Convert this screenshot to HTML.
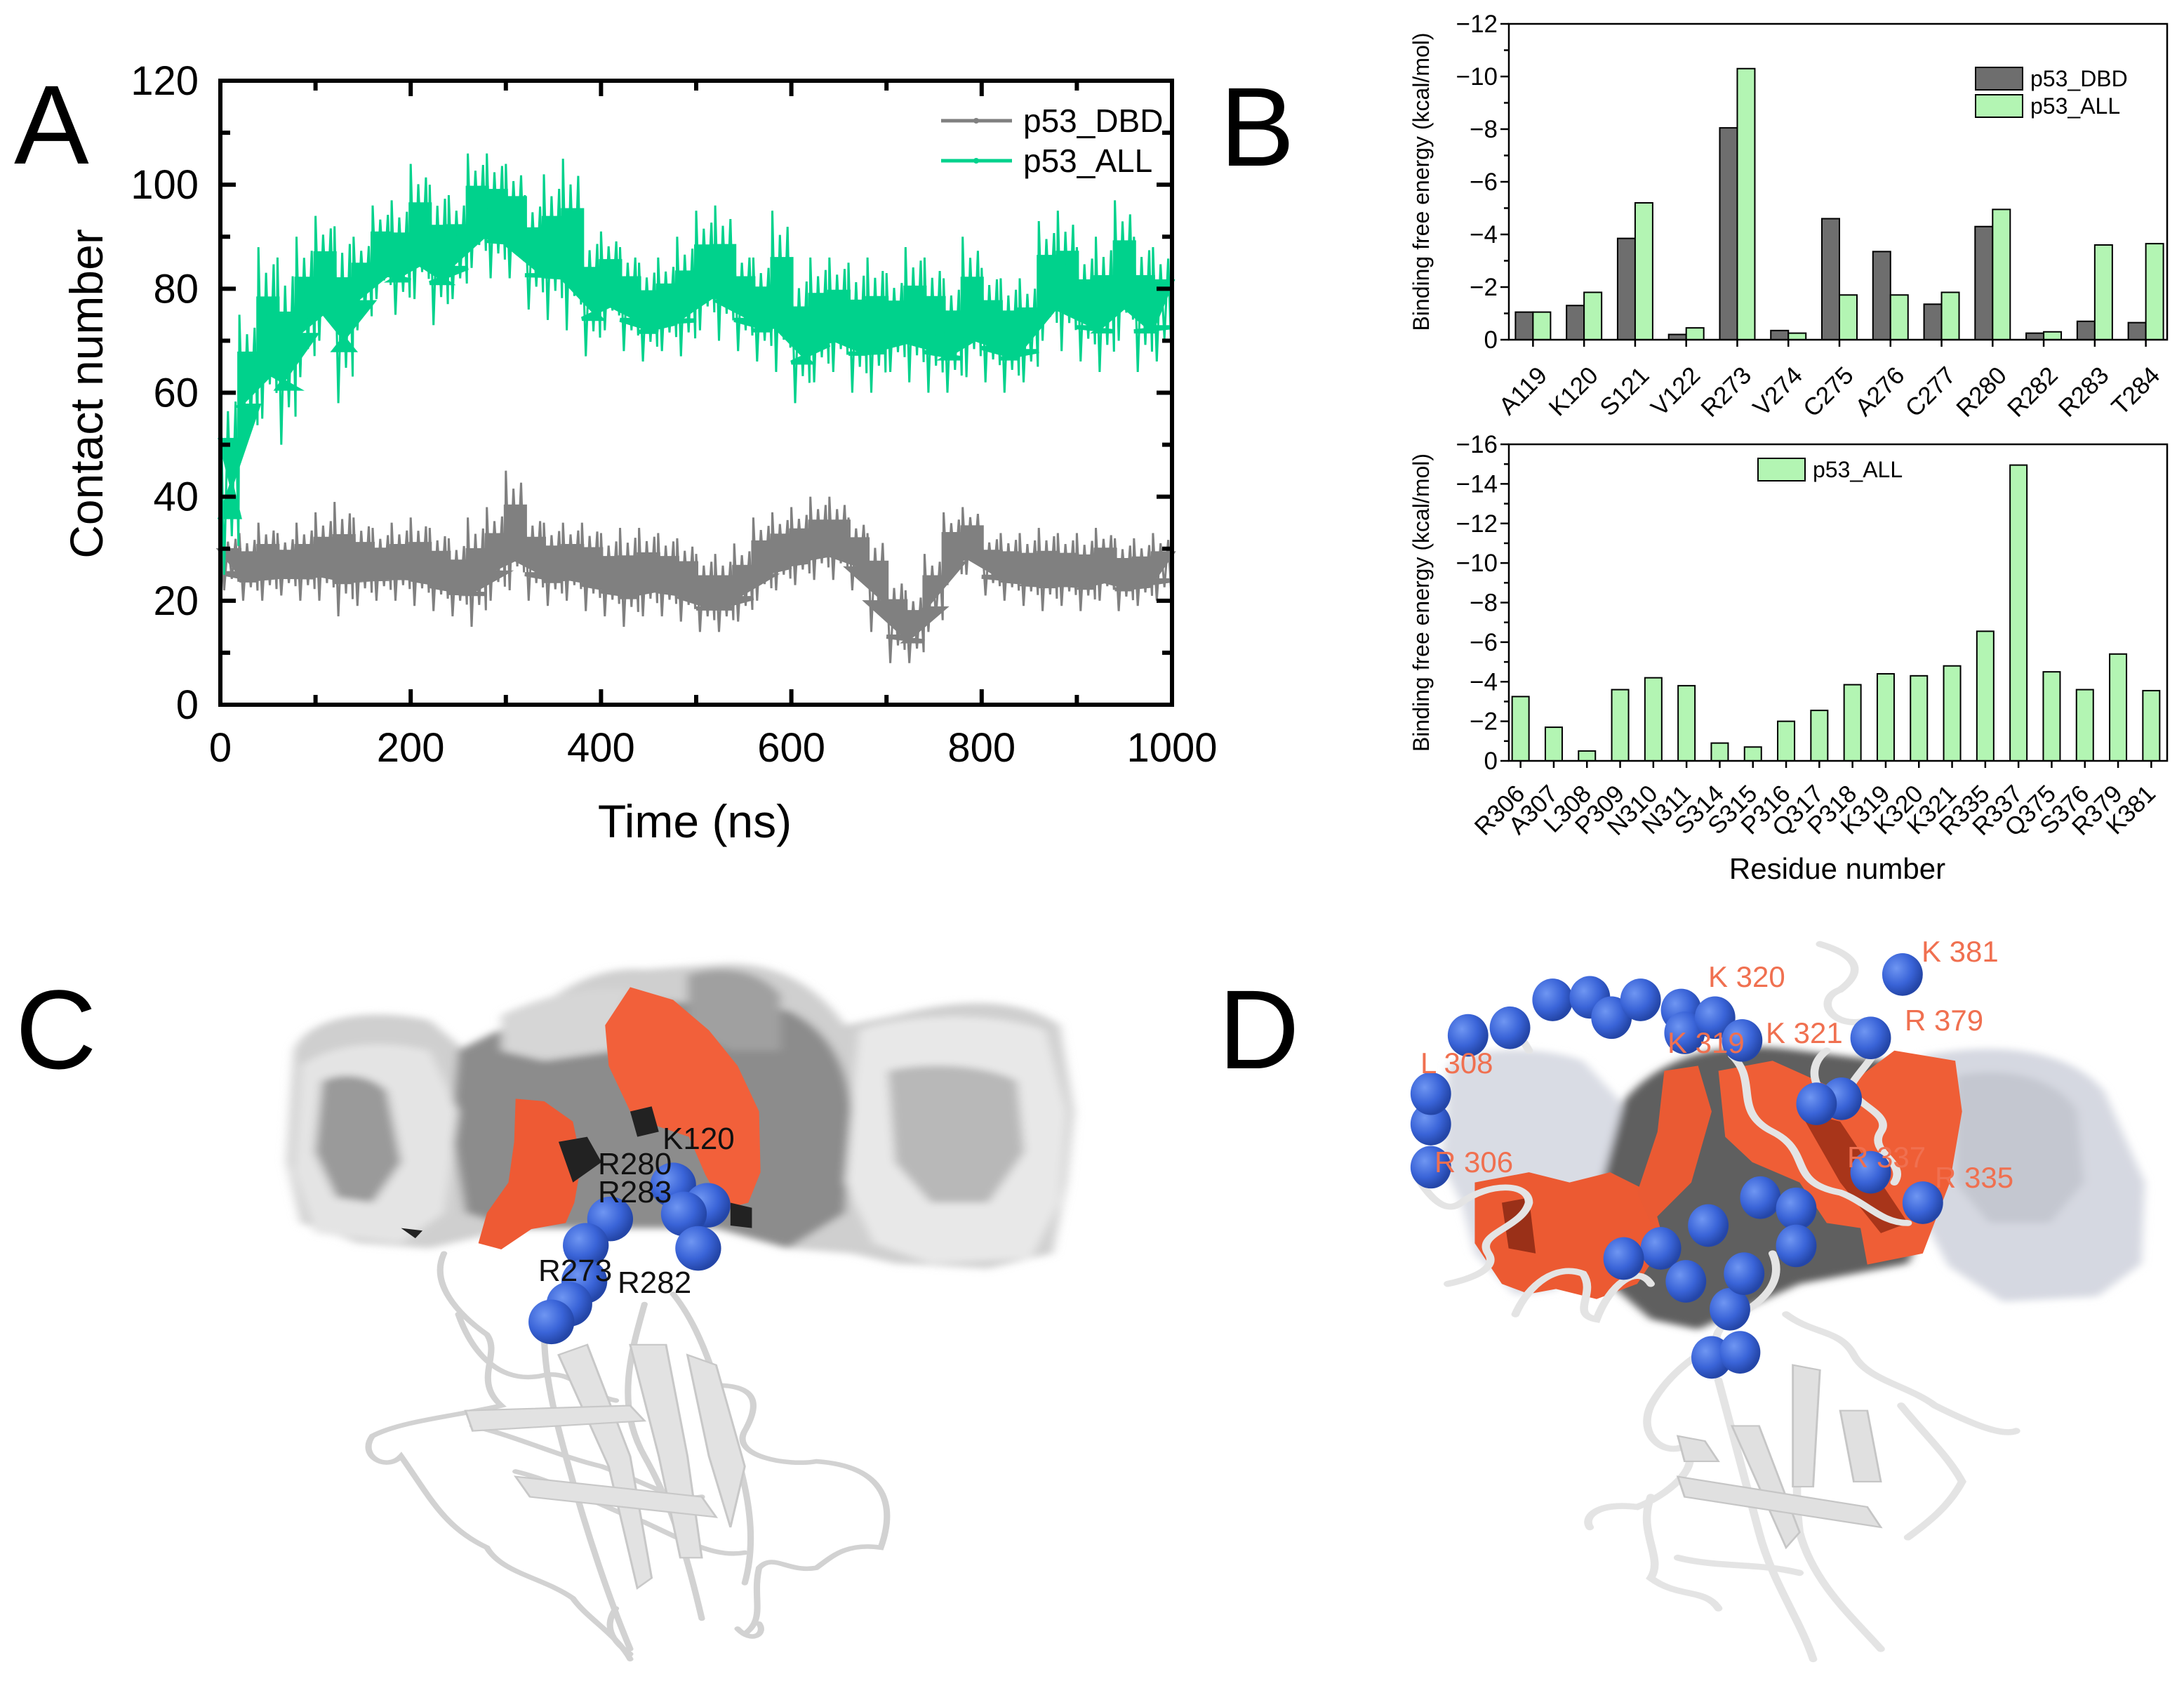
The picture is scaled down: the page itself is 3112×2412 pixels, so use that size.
<!DOCTYPE html>
<html><head><meta charset="utf-8"><style>
html,body{margin:0;padding:0;background:#fff;}
svg{display:block;font-family:"Liberation Sans",Arial,sans-serif;}
</style></head><body>
<svg id="fig" width="3112" height="2412" viewBox="0 0 3112 2412" xmlns="http://www.w3.org/2000/svg">
<defs>
<filter id="blur" x="-10%" y="-10%" width="120%" height="120%"><feGaussianBlur stdDeviation="7"/></filter>
<radialGradient id="ball" cx="35%" cy="35%" r="65%"><stop offset="0" stop-color="#6f96f2"/><stop offset="0.6" stop-color="#3a64d8"/><stop offset="1" stop-color="#2446a8"/></radialGradient>
</defs>
<g id="panelA"></g>
<g id="panelB1"></g>
<g id="panelB2"></g>

<text x="20" y="233" font-size="160">A</text>
<text x="1738" y="236" font-size="160">B</text>
<text x="22" y="1522" font-size="160">C</text>
<text x="1736" y="1522" font-size="160">D</text>

<g>
<g transform="translate(0,1280) scale(1.0204,0.7225)">
 <g filter="url(#blur)">
  <path d="M410,300 C430,230 520,215 600,240 L650,300 700,280 C760,200 820,130 900,140 L1000,130 C1080,120 1140,170 1180,250 L1250,230 C1330,200 1420,190 1480,250 L1500,420 1490,560 1470,700 1380,730 1250,720 1190,700 1100,690 1020,650 900,650 720,650 600,690 500,680 420,640 400,520 Z" fill="#cfcfcf"/>
  <path d="M640,300 C720,240 800,190 900,200 L1100,220 C1160,260 1190,340 1190,450 L1180,620 1100,690 1000,650 900,650 720,650 650,620 630,450 Z" fill="#8c8c8c"/>
  <path d="M420,330 C470,280 540,280 600,300 L640,420 620,620 560,680 440,660 410,540 Z" fill="#e4e4e4"/>
  <path d="M450,360 C480,340 520,350 540,380 L560,520 520,600 470,590 440,500 Z" fill="#9a9a9a"/>
  <path d="M1200,260 C1260,230 1380,220 1460,260 L1490,420 1480,600 1440,710 1300,720 1220,680 1180,560 1190,400 Z" fill="#e8e8e8"/>
  <path d="M1240,340 C1300,320 1380,330 1420,360 L1430,500 1380,600 1300,600 1250,520 Z" fill="#b8b8b8"/>
  <path d="M700,230 C760,190 830,170 880,180 L860,300 760,320 700,300 Z" fill="#d6d6d6"/>
  <path d="M960,150 C1010,130 1060,140 1090,190 L1090,300 1020,300 960,260 Z" fill="#a0a0a0"/>
 </g>
 <path d="M880,175 L940,200 990,260 1030,330 1060,420 1062,540 1045,600 1012,612 985,545 962,470 920,450 880,420 850,330 845,250 Z" fill="#f2603a"/>
 <path d="M720,395 L760,400 800,440 812,520 802,600 790,640 742,652 700,692 668,680 680,620 710,560 718,480 Z" fill="#ee5a34"/>
 <path d="M780,480 L820,470 840,520 800,560 Z M880,420 L910,410 920,460 890,470 Z M1020,600 L1050,610 1050,650 1020,645 Z M560,650 L590,655 580,670 Z" fill="#222"/>
 <g fill="none" stroke="#d2d2d2" stroke-width="9" stroke-linecap="round">
  <path d="M620,700 C600,760 640,820 680,860 C700,900 660,950 700,1000 C640,1020 560,1030 520,1060 C500,1100 540,1130 560,1100 C600,1180 620,1240 680,1280 C700,1330 760,1340 800,1380 C820,1420 860,1450 880,1500"/>
  <path d="M760,860 C760,950 780,1050 800,1150 C820,1250 850,1380 880,1480"/>
  <path d="M900,800 C880,900 860,1000 900,1100 C940,1200 960,1300 980,1420"/>
  <path d="M940,780 C980,850 1000,950 1020,1050 C1040,1150 1060,1250 1040,1350"/>
  <path d="M1000,960 C1060,960 1060,1000 1040,1050 C1020,1100 1100,1120 1140,1110 C1240,1120 1250,1200 1230,1280 C1180,1270 1160,1300 1140,1320 C1100,1330 1080,1290 1060,1320 C1050,1380 1070,1420 1040,1450"/>
  <path d="M640,820 C660,900 700,960 760,940 C800,930 820,980 860,990"/>
  <path d="M720,1130 C780,1150 840,1200 900,1230 C960,1270 1000,1300 1040,1290"/>
  <path d="M660,1040 C720,1060 780,1100 840,1120 C900,1150 940,1190 980,1180"/>
  <path d="M860,1400 C840,1440 860,1470 880,1490 M1030,1440 C1050,1470 1070,1450 1060,1430"/>
 </g>
 <g fill="#e2e2e2" stroke="#c8c8c8" stroke-width="3">
  <path d="M780,900 L820,880 880,1100 910,1340 890,1360 850,1120 Z"/>
  <path d="M880,880 L930,880 960,1100 980,1300 950,1300 920,1100 Z"/>
  <path d="M720,1140 L980,1180 1000,1220 740,1180 Z"/>
  <path d="M650,1010 L880,1000 900,1030 660,1050 Z"/>
  <path d="M960,900 L1000,920 1040,1120 1020,1240 990,1100 Z"/>
 </g>
 <g fill="url(#ball)">
  <ellipse cx="852" cy="632" rx="32" ry="44"/><ellipse cx="818" cy="684" rx="32" ry="44"/>
  <ellipse cx="816" cy="755" rx="32" ry="44"/><ellipse cx="795" cy="800" rx="32" ry="44"/>
  <ellipse cx="770" cy="835" rx="32" ry="44"/><ellipse cx="940" cy="565" rx="32" ry="44"/>
  <ellipse cx="988" cy="605" rx="32" ry="44"/><ellipse cx="955" cy="622" rx="32" ry="44"/>
  <ellipse cx="975" cy="690" rx="32" ry="44"/>
 </g>
</g>
<g font-size="44" fill="#111">
 <text x="944" y="1637">K120</text><text x="852" y="1673">R280</text><text x="852" y="1713">R283</text>
 <text x="767" y="1825">R273</text><text x="880" y="1842">R282</text>
</g>
</g>

<g>
<g transform="translate(1600,1280) scale(0.9643,0.7225)">
 <g filter="url(#blur)">
  <path d="M480,330 C520,290 620,290 680,320 L735,400 742,520 705,565 682,700 640,772 580,782 520,700 500,600 470,520 478,420 Z" fill="#d9dce4"/>
  <path d="M740,400 C800,300 900,280 1000,300 L1180,330 1200,600 1160,720 1000,760 850,850 780,830 720,760 700,600 Z" fill="#5e5e5e"/>
  <path d="M1180,310 C1300,280 1400,300 1450,380 L1510,560 1505,720 1440,785 1300,795 1220,725 1170,600 Z" fill="#d5d8e1"/>
  <path d="M1230,350 C1300,330 1380,350 1410,420 L1420,560 1370,640 1280,640 1230,560 Z" fill="#c4c7d0"/>
 </g>
 <path d="M520,560 L600,540 660,560 720,540 780,580 800,680 760,760 700,790 640,770 600,780 560,760 520,680 Z" fill="#ec5a32"/>
 <path d="M560,600 L600,590 610,700 570,690 Z" fill="#9a3018"/>
 <path d="M880,340 L960,320 1060,380 1140,300 1230,320 1240,420 1222,560 1182,700 1100,722 1090,650 1040,640 1000,560 930,520 890,470 Z" fill="#ef5e36"/>
 <path d="M800,340 L850,330 870,420 840,560 780,640 760,580 790,460 Z" fill="#ea5a33"/>
 <path d="M1000,420 L1060,440 1120,560 1160,640 1120,660 1060,560 Z" fill="#a8351a"/>
 <g fill="none" stroke="#e4e4e4" stroke-width="12" stroke-linecap="round">
  <path d="M600,300 C580,250 560,250 560,270 M440,560 C460,600 480,620 500,600 C540,560 600,560 600,600 C590,650 520,660 540,700 C560,740 480,760 480,760"/>
  <path d="M580,820 C600,760 640,720 680,740 C700,780 660,820 700,830 C720,760 760,720 780,760"/>
  <path d="M900,310 C940,360 900,420 960,460 C1020,500 980,560 1060,580 C1100,600 1120,640 1160,640"/>
  <path d="M1030,90 C1080,110 1100,140 1060,180 C1020,200 1050,260 1100,240 C1140,280 1100,320 1080,360 C1060,400 1140,420 1120,460 C1100,500 1160,520 1140,560"/>
  <path d="M1040,300 C1010,330 1020,380 1050,400"/>
  <path d="M960,700 C980,760 940,800 900,830 C860,860 880,900 900,900"/>
  <path d="M880,880 C840,900 800,950 780,1000 C760,1060 800,1100 830,1080 C860,1120 800,1180 760,1200 C700,1190 680,1220 690,1240"/>
  <path d="M980,820 C1020,860 1060,850 1080,900 C1100,950 1160,960 1200,1000 C1260,1040 1300,1060 1320,1050"/>
  <path d="M880,950 C900,1050 920,1150 940,1250 C960,1350 1000,1420 1020,1500"/>
  <path d="M1020,950 C1000,1050 990,1150 1000,1250 C1020,1350 1080,1420 1120,1480"/>
  <path d="M780,1180 C760,1250 800,1300 780,1340 C820,1380 860,1360 880,1400"/>
  <path d="M1150,1000 C1180,1050 1220,1100 1240,1150 C1220,1200 1190,1230 1160,1260"/>
  <path d="M820,1300 C880,1320 940,1310 1000,1330"/>
 </g>
 <g fill="#e0e0e0" stroke="#c6c6c6" stroke-width="3">
  <path d="M900,1040 L940,1040 1000,1250 980,1280 Z"/>
  <path d="M990,920 L1030,930 1020,1160 990,1160 Z"/>
  <path d="M820,1140 L1100,1200 1120,1240 830,1180 Z"/>
  <path d="M1060,1010 L1100,1010 1120,1150 1080,1150 Z"/>
  <path d="M820,1060 L860,1070 880,1110 830,1110 Z"/>
 </g>
 <g fill="url(#ball)">
  <ellipse cx="455" cy="530" rx="30" ry="42"/><ellipse cx="455" cy="445" rx="30" ry="42"/><ellipse cx="455" cy="385" rx="30" ry="42"/>
  <ellipse cx="510" cy="270" rx="30" ry="42"/><ellipse cx="572" cy="255" rx="30" ry="42"/><ellipse cx="635" cy="200" rx="30" ry="42"/>
  <ellipse cx="690" cy="195" rx="30" ry="42"/><ellipse cx="722" cy="235" rx="30" ry="42"/><ellipse cx="765" cy="200" rx="30" ry="42"/>
  <ellipse cx="825" cy="220" rx="30" ry="42"/><ellipse cx="830" cy="265" rx="30" ry="42"/><ellipse cx="875" cy="235" rx="30" ry="42"/>
  <ellipse cx="915" cy="280" rx="30" ry="42"/><ellipse cx="1152" cy="150" rx="30" ry="42"/><ellipse cx="1105" cy="275" rx="30" ry="42"/>
  <ellipse cx="1062" cy="395" rx="30" ry="42"/><ellipse cx="1025" cy="405" rx="30" ry="42"/><ellipse cx="1105" cy="540" rx="30" ry="42"/>
  <ellipse cx="1182" cy="600" rx="30" ry="42"/><ellipse cx="942" cy="590" rx="30" ry="42"/><ellipse cx="995" cy="612" rx="30" ry="42"/>
  <ellipse cx="995" cy="685" rx="30" ry="42"/><ellipse cx="865" cy="645" rx="30" ry="42"/><ellipse cx="795" cy="690" rx="30" ry="42"/>
  <ellipse cx="740" cy="710" rx="30" ry="42"/><ellipse cx="832" cy="755" rx="30" ry="42"/><ellipse cx="897" cy="810" rx="30" ry="42"/>
  <ellipse cx="918" cy="740" rx="30" ry="42"/><ellipse cx="870" cy="905" rx="30" ry="42"/><ellipse cx="912" cy="895" rx="30" ry="42"/>
 </g>
</g>
<g font-size="42" fill="#f07050">
 <text x="2738" y="1370">K 381</text><text x="2434" y="1406">K 320</text><text x="2714" y="1468">R 379</text>
 <text x="2516" y="1486">K 321</text><text x="2376" y="1500">K 319</text><text x="2024" y="1529">L 308</text>
 <text x="2044" y="1670">R 306</text><text x="2632" y="1663">R 337</text><text x="2757" y="1692">R 335</text>
</g>
</g>
</svg>

<script>
// ===== Panel A data (20 ns bins: upper / lower envelope of contact number) =====
const timeBins = [0,20,40,60,80,100,120,140,160,180,200,220,240,260,280,300,320,340,360,380,400,420,440,460,480,500,520,540,560,580,600,620,640,660,680,700,720,740,760,780,800,820,840,860,880,900,920,940,960,980];
const allHi = [62,75,88,86,90,94,92,90,96,97,104,100,98,106,106,104,98,102,105,91,91,88,85,86,90,95,96,88,86,95,84,86,86,85,86,83,88,86,82,90,84,82,82,93,95,88,90,97,90,88];
const allLo = [25,50,55,50,63,70,58,72,78,75,78,73,78,84,82,82,76,74,72,67,72,68,66,68,67,72,70,68,66,64,58,62,64,60,60,64,62,60,60,63,62,60,62,70,68,66,64,70,64,66];
const dbdHi = [33,33,35,33,35,37,39,36,34,35,36,34,32,36,38,45,37,35,35,35,33,34,34,33,32,29,29,31,36,37,38,40,40,36,33,25,22,29,37,38,33,33,33,34,33,33,34,32,32,33];
const dbdLo = [22,20,20,21,20,20,17,19,20,20,19,18,17,15,20,22,20,19,20,18,17,15,17,17,16,14,14,16,20,22,23,24,24,22,14,8,8,14,23,25,21,20,19,18,19,18,20,18,19,20];
const aXTicks = [0,200,400,600,800,1000];
const aYTicks = [0,20,40,60,80,100,120];

// ===== Panel B top data =====
const topResidues = ["A119","K120","S121","V122","R273","V274","C275","A276","C277","R280","R282","R283","T284"];
const topDBD = [-1.05,-1.3,-3.85,-0.2,-8.05,-0.35,-4.6,-3.35,-1.35,-4.3,-0.25,-0.7,-0.65];
const topALL = [-1.05,-1.8,-5.2,-0.45,-10.3,-0.25,-1.7,-1.7,-1.8,-4.95,-0.3,-3.6,-3.65];
const topYTicks = [0,-2,-4,-6,-8,-10,-12];

// ===== Panel B bottom data =====
const botResidues = ["R306","A307","L308","P309","N310","N311","S314","S315","P316","Q317","P318","K319","K320","K321","R335","R337","Q375","S376","R379","K381"];
const botALL = [-3.25,-1.7,-0.5,-3.6,-4.2,-3.8,-0.9,-0.7,-2.0,-2.55,-3.85,-4.4,-4.3,-4.8,-6.55,-14.95,-4.5,-3.6,-5.4,-3.55];
const botYTicks = [0,-2,-4,-6,-8,-10,-12,-14,-16];

const NS = "http://www.w3.org/2000/svg";
function mk(parent, tag, attrs, text){
  const e = document.createElementNS(NS, tag);
  for (const k in attrs) e.setAttribute(k, attrs[k]);
  if (text !== undefined) e.textContent = text;
  parent.appendChild(e);
  return e;
}
function fmt(v){ return v < 0 ? "\u2212" + Math.abs(v) : String(v); }

(function(){
  const g = document.getElementById("panelA");
  const L=314,R=1670,T=115,B=1004;
  const xA = t => L + t/1000*(R-L);
  const yA = v => B - v/120*(B-T);
  function series(hi, lo, color, name){
    const sg = mk(g, "g", {});
    
    
    let top = [], bot = [];
    for (let i=0;i<timeBins.length;i++){
      const t0 = timeBins[i], t1 = t0+20;
      const c1 = lo[i] + (hi[i]-lo[i])*0.3, c2 = hi[i] - (hi[i]-lo[i])*0.3;
      top.push(xA(t0).toFixed(1)+","+yA(c2).toFixed(1), xA(t1).toFixed(1)+","+yA(c2).toFixed(1));
      bot.unshift(xA(t0).toFixed(1)+","+yA(c1).toFixed(1), xA(t1).toFixed(1)+","+yA(c1).toFixed(1));
    }
    const band = mk(sg, "polygon", {points: top.concat(bot).join(" "), fill: color, stroke: color, "stroke-width": 6});
    
    
    let pts = [];
    for (let i=0;i<timeBins.length;i++){
      const t0 = timeBins[i];
      const mid = (hi[i]+lo[i])/2;
      pts.push([t0, hi[i]], [t0+4, lo[i]], [t0+8, mid+(hi[i]-mid)*0.7], [t0+12, mid-(mid-lo[i])*0.6], [t0+16, hi[i]-(hi[i]-mid)*0.2], [t0+19, lo[i]+(mid-lo[i])*0.3]);
    }
    const pl = mk(sg, "polyline", {points: pts.map(p=>xA(p[0]).toFixed(1)+","+yA(p[1]).toFixed(1)).join(" "), fill:"none", stroke: color, "stroke-width": 3});
    
    
  }
  series(dbdHi, dbdLo, "#808080", "series-p53-dbd");
  series(allHi, allLo, "#00d28c", "series-p53-all");

  const frame = mk(g, "rect", {x:L, y:T, width:R-L, height:B-T, fill:"none", stroke:"#000", "stroke-width":6});
  
  
  for (let t=0;t<=1000;t+=100){
    const len = (t%200===0)?22:14;
    mk(g,"line",{x1:xA(t),x2:xA(t),y1:B,y2:B-len,stroke:"#000","stroke-width":6});
    mk(g,"line",{x1:xA(t),x2:xA(t),y1:T,y2:T+len,stroke:"#000","stroke-width":6});
  }
  aXTicks.forEach(t=>{
    const tl = mk(g,"text",{x:xA(t),y:1085,"font-size":58,"text-anchor":"middle"}, String(t));
    
    
  });
  for (let v=0;v<=120;v+=10){
    const len = (v%20===0)?22:14;
    mk(g,"line",{x1:L,x2:L+len,y1:yA(v),y2:yA(v),stroke:"#000","stroke-width":6});
    mk(g,"line",{x1:R,x2:R-len,y1:yA(v),y2:yA(v),stroke:"#000","stroke-width":6});
  }
  aYTicks.forEach(v=>{
    const tl = mk(g,"text",{x:283,y:yA(v)+20,"font-size":58,"text-anchor":"end"}, String(v));
    
    
  });
  const xt = mk(g,"text",{x:990,y:1193,"font-size":66,"text-anchor":"middle"},"Time (ns)");
  
  
  const yt = mk(g,"text",{x:0,y:0,"font-size":66,"text-anchor":"middle",transform:"translate(146,561) rotate(-90)"},"Contact number");
  
  
  const lg = mk(g,"g",{});
  
  
  mk(lg,"line",{x1:1341,x2:1442,y1:172,y2:172,stroke:"#808080","stroke-width":5});
  mk(lg,"circle",{cx:1391,cy:172,r:4,fill:"#808080"});
  mk(lg,"text",{x:1458,y:188,"font-size":46},"p53_DBD");
  mk(lg,"line",{x1:1341,x2:1442,y1:229,y2:229,stroke:"#00d28c","stroke-width":5});
  mk(lg,"circle",{cx:1391,cy:229,r:4,fill:"#00d28c"});
  mk(lg,"text",{x:1458,y:245,"font-size":46},"p53_ALL");
})();

function barChart(gid, cats, seriesList, yTicks, yMin, box, barW, labelY, legend){
  const g = document.getElementById(gid);
  const {L,R,T,B,x0,x1} = box;
  const step = (x1-x0)/cats.length;
  const cx = i => x0 + step*(i+0.5);
  const yS = v => B + v/Math.abs(yMin)*(B-T);
  seriesList.forEach((s, si)=>{
    s.values.forEach((v,i)=>{
      const off = seriesList.length===1 ? -barW/2 : (si===0 ? -barW : 0);
      const r = mk(g,"rect",{x:cx(i)+off, y:yS(v), width:barW, height:B-yS(v), fill:s.color, stroke:"#000","stroke-width":2});
      
      
    });
  });
  const fr = mk(g,"rect",{x:L,y:T,width:R-L,height:B-T,fill:"none",stroke:"#000","stroke-width":2.5});
  
  
  for (let v=0; v>=yMin; v-=1){
    const major = (v%2===0);
    mk(g,"line",{x1:L-(major?12:7),x2:L,y1:yS(v),y2:yS(v),stroke:"#000","stroke-width":2.5});
  }
  yTicks.forEach(v=>{
    const t = mk(g,"text",{x:L-16,y:yS(v)+12,"font-size":35,"text-anchor":"end"}, fmt(v));
    
    
  });
  cats.forEach((c,i)=>{
    mk(g,"line",{x1:cx(i),x2:cx(i),y1:B,y2:B+10,stroke:"#000","stroke-width":2.5});
    const t = mk(g,"text",{x:0,y:0,"font-size":35,"text-anchor":"end",transform:"translate("+(cx(i)+labelY.dx)+","+labelY.y+") rotate(-45)"}, c);
    
    
  });
  const yt = mk(g,"text",{x:0,y:0,"font-size":32,"text-anchor":"middle",transform:"translate(2036,"+((T+B)/2)+") rotate(-90)"},"Binding free energy (kcal/mol)");
  
  
  const lg = mk(g,"g",{});
  
  
  legend.forEach(e=>{
    mk(lg,"rect",{x:e.x,y:e.y,width:67,height:32,fill:e.color,stroke:"#000","stroke-width":2});
    mk(lg,"text",{x:e.x+78,y:e.y+27,"font-size":32},e.label);
  });
}
barChart("panelB1", topResidues,
  [{key:"p53-dbd", values:topDBD, color:"#6e6e6e"},{key:"p53-all", values:topALL, color:"#b3f5b3"}],
  topYTicks, -12, {L:2150,R:3088,T:34,B:484,x0:2148,x1:3094}, 25, {dx:22,y:537},
  [{x:2815,y:96,color:"#6e6e6e",label:"p53_DBD"},{x:2815,y:135,color:"#b3f5b3",label:"p53_ALL"}]);
barChart("panelB2", botResidues,
  [{key:"p53-all", values:botALL, color:"#b3f5b3"}],
  botYTicks, -16, {L:2150,R:3088,T:633,B:1084,x0:2143,x1:3089}, 24, {dx:8,y:1133},
  [{x:2505,y:653,color:"#b3f5b3",label:"p53_ALL"}]);
(function(){
  const g = document.getElementById("panelB2");
  const t = mk(g,"text",{x:2618,y:1252,"font-size":42,"text-anchor":"middle"},"Residue number");
  
  
})();
</script>
</body></html>
